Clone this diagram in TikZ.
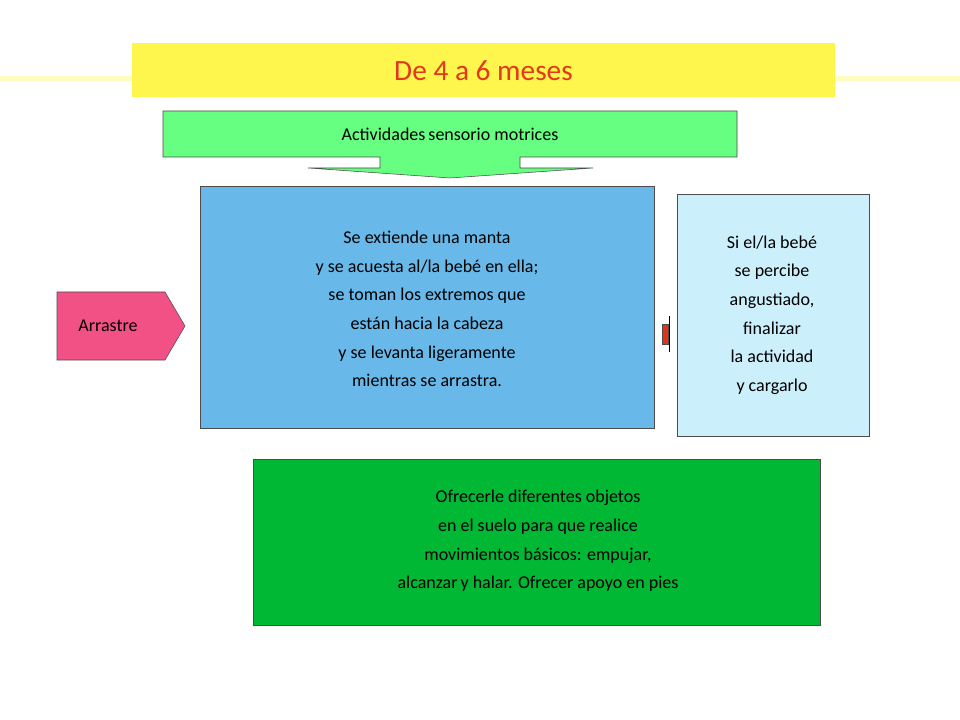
\documentclass[tikz,border=0pt]{standalone}
\usepackage{fontspec}
\setmainfont{Carlito}
\usetikzlibrary{positioning}

\tikzset{
    box/.style={draw=black!70, thin, align=center, font=\fontsize{13.5}{21.5}\selectfont},
    lbl/.style={align=center, font=\fontsize{13.5}{21.5}\selectfont}
}

\begin{document}
\begin{tikzpicture}[x=0.75pt, y=-0.75pt]
    \useasboundingbox (0,0) rectangle (960,720);

    % Title banner
    \fill[yellow!25] (0,76) rectangle (960,81);
    \fill[yellow!70] (132,43) rectangle (835,97);
    \node[font=\fontsize{22}{26}\selectfont, text=red!55!brown] (title) at (483.5,71) {De 4 a 6 meses};

    % Arrow callout
    \draw[black!70, fill=green!55!white!90!cyan]
        (163,111) -- (737,111) -- (737,157) -- (520,157) -- (520,168) -- (593,168)
        -- (450,178) -- (308,168) -- (380,168) -- (380,157) -- (163,157) -- cycle;
    \node[lbl] (act) at (450,134) {Actividades\,sensorio motrices};

    % Main box
    \draw[black!70, fill=cyan!80!blue!60!white] (200,186) rectangle (654,428);
    \node[lbl] (main) at (427,309) {Se extiende una manta\\y se acuesta al/la bebé en ella;\\se toman los extremos que\\están hacia la cabeza\\y se levanta ligeramente\\mientras se arrastra.};

    % Side note
    \draw[black!70, fill=cyan!20] (677,194) rectangle (869,436);
    \node[lbl] (note) at (772,315) {Si el/la bebé\\se percibe\\angustiado,\\finalizar\\la actividad\\y cargarlo};

    % Small marker
    \draw[black!70, fill=red!60!brown] (662,324) rectangle (668,344);
    \draw (669,316) -- (669,352);

    % Pentagon label
    \draw[black!70, fill=magenta!60!red!70!white] (57,292) -- (165,292) -- (185,326) -- (165,360) -- (57,360) -- cycle;
    \node[lbl] (arr) at (108,326) {Arrastre};

    % Bottom box
    \draw[black!70, fill=green!65!black!80!cyan] (253,459) rectangle (820,625);
    \node[lbl] (obj) at (538,541) {Ofrecerle diferentes objetos\\en el suelo para que realice\\movimientos básicos: empujar,\\alcanzar\,y halar. Ofrecer apoyo en pies};
\end{tikzpicture}
\end{document}
